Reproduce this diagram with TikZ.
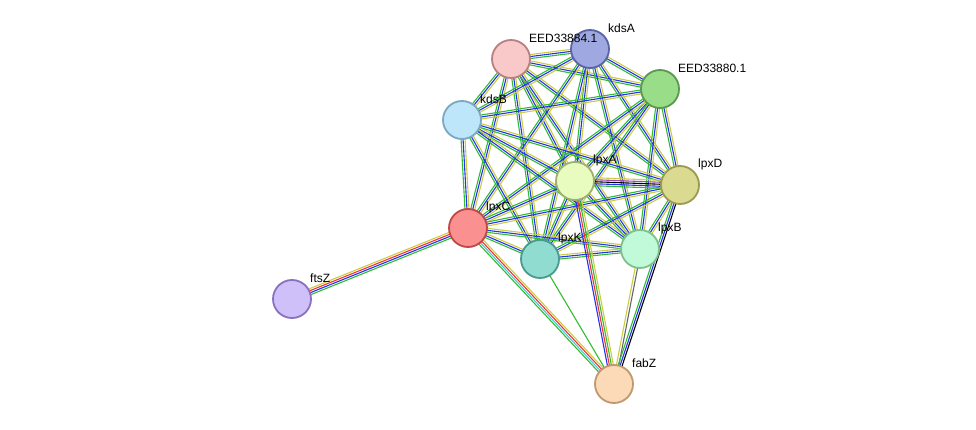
\documentclass[tikz,border=0pt]{standalone}
\usepackage{fontspec}
\setmainfont{Liberation Sans}
\usetikzlibrary{calc}
\definecolor{egreen}{HTML}{33BB33}
\definecolor{eblue}{HTML}{2233EE}
\definecolor{eyellow}{HTML}{CCCC44}
\definecolor{ered}{HTML}{EE3333}
\definecolor{ecyan}{HTML}{44CCDD}
\definecolor{epurple}{HTML}{9944BB}
\tikzset{
  prot/.style={circle, minimum size=38pt, inner sep=0pt, line width=1.8pt},
  tag/.style={anchor=west, inner sep=0pt, font=\fontsize{12}{14}\selectfont},
  lnk/.style={line width=1.1pt}
}
% a connector drawn as parallel coloured lines
\newcommand{\link}[3]{%
  \edef\linklist{#3}%
  \foreach \c/\o in \linklist {
    \draw[lnk,\c] ($(#1)!\o pt!90:(#2)$) -- ($(#2)!\o pt!-90:(#1)$);
  }}
\def\part{egreen/-2,eblue/0,eyellow/2}
\begin{document}
\begin{tikzpicture}[x=1pt,y=-1pt]
\useasboundingbox (0,0) rectangle (976,430);
\coordinate (p1) at (511,59);  % EED33884.1
\coordinate (p2) at (590,49);  % kdsA
\coordinate (p3) at (660,89);  % EED33880.1
\coordinate (p4) at (462,120); % kdsB
\coordinate (p5) at (575,181); % lpxA
\coordinate (p6) at (680,185); % lpxD
\coordinate (p7) at (468,228); % lpxC
\coordinate (p8) at (540,259); % lpxK
\coordinate (p9) at (640,249); % lpxB
\coordinate (p10) at (292,299); % ftsZ
\coordinate (p11) at (614,384); % fabZ

% dense core
\foreach \a/\b in {p1/p2,p1/p3,p1/p4,p1/p5,p1/p6,p1/p7,p1/p8,p1/p9,
  p2/p3,p2/p4,p2/p5,p2/p6,p2/p7,p2/p8,p2/p9,
  p3/p4,p3/p5,p3/p6,p3/p7,p3/p8,p3/p9,
  p4/p5,p4/p6,p4/p7,p4/p8,p4/p9,
  p5/p7,p5/p8,p5/p9,p6/p7,p6/p8,p6/p9,p7/p8,p7/p9,p8/p9}
  {\link{\a}{\b}{\part}}
\link{p5}{p6}{egreen/-4,eblue/-2,black/0,epurple/2,eyellow/4}
\link{p7}{p10}{eyellow/-3,ered/-1,eblue/1,egreen/3}
\link{p7}{p11}{egreen/-3,ecyan/-1,ered/1,eyellow/3}
\link{p5}{p11}{eblue/-3,ered/-1,egreen/1,eyellow/3}
\link{p8}{p11}{egreen/0}
\link{p9}{p11}{eyellow/-1.2,black!60/1.2}
\link{p6}{p11}{egreen/-2,eblue/0,black/2}

\node[prot, fill={rgb,255:red,249;green,200;blue,200}, draw={rgb,255:red,185;green,128;blue,128}] (EED33884) at (p1) {};
\node[prot, fill={rgb,255:red,159;green,168;blue,224}, draw={rgb,255:red,90;green,99;blue,168}] (kdsA) at (p2) {};
\node[prot, fill={rgb,255:red,153;green,221;blue,136}, draw={rgb,255:red,90;green,154;blue,80}] (EED33880) at (p3) {};
\node[prot, fill={rgb,255:red,189;green,230;blue,250}, draw={rgb,255:red,122;green,168;blue,192}] (kdsB) at (p4) {};
\node[prot, fill={rgb,255:red,232;green,252;blue,192}, draw={rgb,255:red,160;green,176;blue,112}] (lpxA) at (p5) {};
\node[prot, fill={rgb,255:red,218;green,218;blue,144}, draw={rgb,255:red,154;green,154;blue,80}] (lpxD) at (p6) {};
\node[prot, fill={rgb,255:red,250;green,144;blue,144}, draw={rgb,255:red,192;green,72;blue,72}] (lpxC) at (p7) {};
\node[prot, fill={rgb,255:red,144;green,220;blue,208}, draw={rgb,255:red,74;green,154;blue,144}] (lpxK) at (p8) {};
\node[prot, fill={rgb,255:red,192;green,250;blue,216}, draw={rgb,255:red,128;green,192;blue,144}] (lpxB) at (p9) {};
\node[prot, fill={rgb,255:red,208;green,192;blue,250}, draw={rgb,255:red,138;green,112;blue,192}] (ftsZ) at (p10) {};
\node[prot, fill={rgb,255:red,252;green,218;blue,184}, draw={rgb,255:red,192;green,152;blue,112}] (fabZ) at (p11) {};

\foreach \n/\t in {EED33884/EED33884.1,kdsA/kdsA,EED33880/EED33880.1,kdsB/kdsB,
  lpxA/lpxA,lpxD/lpxD,lpxC/lpxC,lpxK/lpxK,lpxB/lpxB,ftsZ/ftsZ,fabZ/fabZ}
  \node[tag] at ($(\n)+(18,-21)$) {\t};
\end{tikzpicture}
\end{document}
